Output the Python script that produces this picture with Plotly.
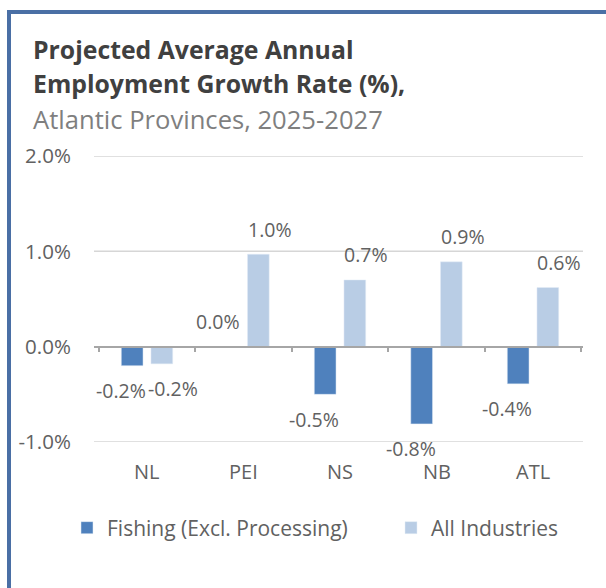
import plotly.graph_objects as go

# ---- data ----
categories = ["NL", "PEI", "NS", "NB", "ATL"]
fishing = [-0.20, 0.00, -0.50, -0.81, -0.39]
all_industries = [-0.18, 0.97, 0.70, 0.89, 0.62]
series_names = ["Fishing (Excl. Processing)", "All Industries"]
y_tick_values = [-1, 0, 1, 2]
title_lines = ["Projected Average Annual", "Employment Growth Rate (%),"]
subtitle = "Atlantic Provinces, 2025-2027"

# ---- styling ----
W, H = 606, 588
M = dict(l=94, r=23, t=156, b=146)
FONT = "Open Sans"
TXT = "#616161"
COL_FISH = "#4f81bd"
COL_ALL = "#b9cde5"
AXIS_GREY = "#a6a6a6"
GRID_GREY = "#d6d6d6"
PLOT_W = W - M["l"] - M["r"]
PLOT_H = H - M["t"] - M["b"]
Y_RANGE = [-1, 2]


def px_x(px):
    return (px - M["l"]) / PLOT_W


def px_y(py):
    return (H - M["b"] - py) / PLOT_H


fig = go.Figure()
fig.add_trace(go.Bar(x=categories, y=fishing, name=series_names[0], legend="legend",
                     marker_color=COL_FISH, hoverinfo="skip"))
fig.add_trace(go.Bar(x=categories, y=all_industries, name=series_names[1], legend="legend2",
                     marker_color=COL_ALL, hoverinfo="skip"))

# horizontal gridlines at the value ticks (zero is covered by the category axis)
for t in y_tick_values:
    if t != 0:
        fig.add_shape(type="line", xref="paper", yref="y", x0=0, x1=1, y0=t, y1=t,
                      line=dict(color=GRID_GREY, width=1.5), layer="below")

# value labels beyond the end of each bar
for series, dx in ((fishing, -26), (all_industries, 26)):
    for cat, v in zip(categories, series):
        fig.add_annotation(x=cat, y=v, xref="x", yref="y", text=f"{v:.1f}%",
                           showarrow=False, xshift=dx, yshift=25 if v >= 0 else -25,
                           font=dict(family=FONT, size=19.5, color=TXT))

# category names along the bottom edge (the category axis itself crosses at zero)
for cat in categories:
    fig.add_annotation(x=cat, y=px_y(471.5), xref="x", yref="paper", text=cat,
                       showarrow=False, yanchor="middle",
                       font=dict(family=FONT, size=20, color=TXT))

# title block
title_rows = [(f"<b>{title_lines[0]}</b>", 48.5, "#404040", 24.8),
              (f"<b>{title_lines[1]}</b>", 83.5, "#404040", 24.8),
              (subtitle, 119.5, "#7f7f7f", 25.6)]
for text, yc, col, size in title_rows:
    fig.add_annotation(x=px_x(31), y=px_y(yc), xref="paper", yref="paper", xanchor="left",
                       yanchor="middle", showarrow=False, text=text,
                       font=dict(family=FONT, size=size, color=col))

# frame around the chart
fig.add_shape(type="rect", xref="paper", yref="paper",
              x0=px_x(9), x1=px_x(W + 20), y0=px_y(H + 20), y1=px_y(12),
              line=dict(color="#4a6fa5", width=4), fillcolor="rgba(0,0,0,0)", layer="above")

legend_style = dict(orientation="v", xanchor="left", yanchor="middle", y=px_y(528),
                    font=dict(family=FONT, size=21, color=TXT), bgcolor="rgba(0,0,0,0)")

fig.update_layout(
    width=W, height=H, margin=M,
    paper_bgcolor="white", plot_bgcolor="white",
    barmode="group", bargap=0.385, bargroupgap=0.267,
    font=dict(family=FONT, color=TXT),
    showlegend=True,
    legend=dict(x=px_x(67), **legend_style),
    legend2=dict(x=px_x(391), **legend_style),
    xaxis=dict(type="category", categoryorder="array", categoryarray=categories,
               anchor="free", position=(0 - Y_RANGE[0]) / (Y_RANGE[1] - Y_RANGE[0]),
               showline=True, linecolor=AXIS_GREY, linewidth=1.5,
               ticks="outside", ticklen=5, tickcolor=AXIS_GREY, tickwidth=1.5,
               tickson="boundaries", showticklabels=False, showgrid=False,
               zeroline=False, fixedrange=True),
    yaxis=dict(range=Y_RANGE, tickvals=y_tick_values,
               ticktext=[f"{t:.1f}%" for t in y_tick_values],
               showgrid=False, zeroline=False,
               showline=False, ticks="outside", ticklen=18, tickcolor="rgba(0,0,0,0)",
               tickfont=dict(family=FONT, size=20.5, color=TXT), fixedrange=True),
)

fig.write_html("out.html")
